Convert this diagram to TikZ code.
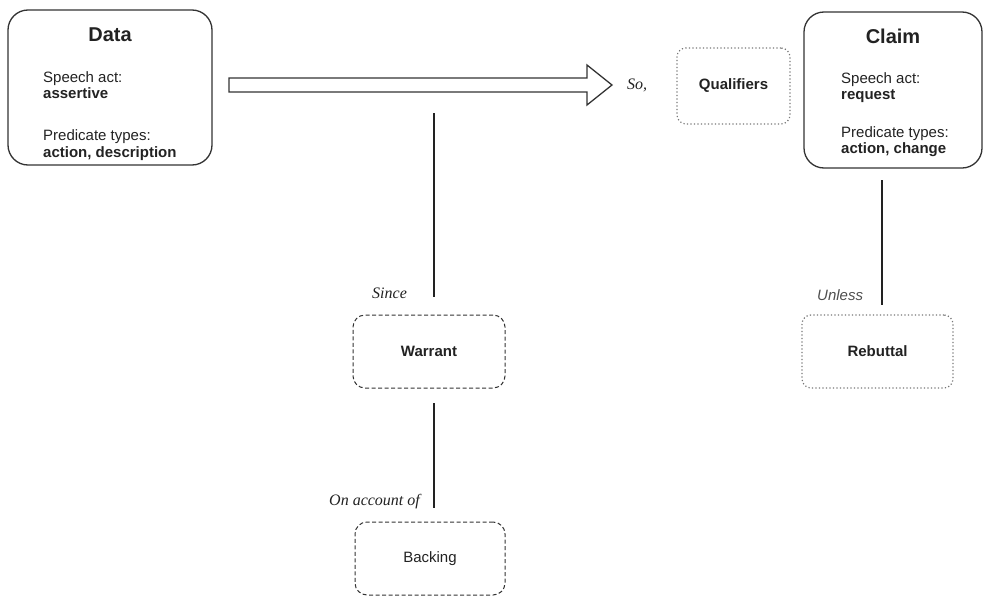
\documentclass[tikz,border=0pt]{standalone}
\usepackage{fontspec}
\setmainfont{Liberation Sans}
\newfontfamily\labelserif{Liberation Serif}
\definecolor{ink}{HTML}{222222}
\definecolor{edge}{HTML}{333333}
\definecolor{dotgray}{HTML}{777777}
\tikzset{
  mainbox/.style={draw=edge, line width=1.3pt, rounded corners=20pt, inner sep=0pt},
  dashbox/.style={draw=edge, line width=1pt, dash pattern=on 4pt off 2.5pt, rounded corners=12pt, inner sep=0pt, font=\fontsize{15}{18}\selectfont, text=ink},
  dotbox/.style={draw=dotgray, line width=1.2pt, dash pattern=on 1.2pt off 2.3pt, rounded corners=9pt, inner sep=0pt, font=\fontsize{15}{18}\selectfont, text=ink},
  title/.style={anchor=base, inner sep=0pt, font=\fontsize{20}{24}\selectfont\bfseries, text=ink},
  body/.style={anchor=base west, inner sep=0pt, font=\fontsize{15}{18}\selectfont, text=ink},
  bodyb/.style={body, font=\fontsize{15}{18}\selectfont\bfseries},
  seriflabel/.style={anchor=base west, inner sep=0pt, font=\fontsize{16}{19}\selectfont\labelserif\itshape, text=ink},
  sanslabel/.style={anchor=base west, inner sep=0pt, font=\fontsize{15}{18}\selectfont\itshape, text=ink!80},
  link/.style={draw=ink, line width=2.2pt},
  bigarrow/.style={draw=edge, line width=1.3pt, fill=white, line join=miter}
}
\begin{document}
\begin{tikzpicture}[x=1pt,y=-1pt]
\useasboundingbox (0,0) rectangle (984,597);

% Data box
\node[mainbox, minimum width=204pt, minimum height=155pt] (data) at (110,87.5) {};
\node[title] (datatitle) at (110,41) {Data};
\node[body] (d1) at (43,82) {Speech act:};
\node[bodyb] (d2) at (43,98) {assertive};
\node[body] (d3) at (43,140) {Predicate types:};
\node[bodyb] (d4) at (43,157) {action, description};

% Claim box
\node[mainbox, minimum width=178pt, minimum height=156pt] (claim) at (893,90) {};
\node[title] (claimtitle) at (893,43) {Claim};
\node[body] (c1) at (841,83) {Speech act:};
\node[bodyb] (c2) at (841,99) {request};
\node[body] (c3) at (841,137) {Predicate types:};
\node[bodyb] (c4) at (841,153) {action, change};

% Qualifiers
\node[dotbox, minimum width=113pt, minimum height=76pt, font=\fontsize{15}{18}\selectfont\bfseries] (qual) at (733.5,86) {Qualifiers};

% Warrant, Backing, Rebuttal
\node[dashbox, minimum width=152pt, minimum height=73pt, font=\fontsize{15}{18}\selectfont\bfseries] (warrant) at (429,351.5) {Warrant};
\node[dashbox, minimum width=150pt, minimum height=73pt] (backing) at (430,558.5) {Backing};
\node[dotbox, minimum width=151pt, minimum height=73pt, font=\fontsize{15}{18}\selectfont\bfseries] (rebuttal) at (877.5,351.5) {Rebuttal};

% big hollow arrow from Data towards Claim
\coordinate (arrS) at (229,85);
\coordinate (arrT) at (612,85);
\draw[bigarrow] ([yshift=-7pt]arrS) -- ([xshift=-25pt,yshift=-7pt]arrT) -- ([xshift=-25pt,yshift=-20pt]arrT) -- (arrT) -- ([xshift=-25pt,yshift=20pt]arrT) -- ([xshift=-25pt,yshift=7pt]arrT) -- ([yshift=7pt]arrS) -- cycle;
\node[seriflabel] (so) at (627,89) {So,};

% warrant connector
\coordinate (w1) at (434,113);
\coordinate (w2) at (434,297);
\draw[link] (w1) -- (w2);
\node[seriflabel] (since) at (372,298) {Since};

% backing connector
\coordinate (b1) at (434,403);
\coordinate (b2) at (434,508);
\draw[link] (b1) -- (b2);
\node[seriflabel] (onaccount) at (329,505) {On account of};

% rebuttal connector
\coordinate (r1) at (882,180);
\coordinate (r2) at (882,305);
\draw[link] (r1) -- (r2);
\node[sanslabel] (unless) at (817,300) {Unless};
\end{tikzpicture}
\end{document}
